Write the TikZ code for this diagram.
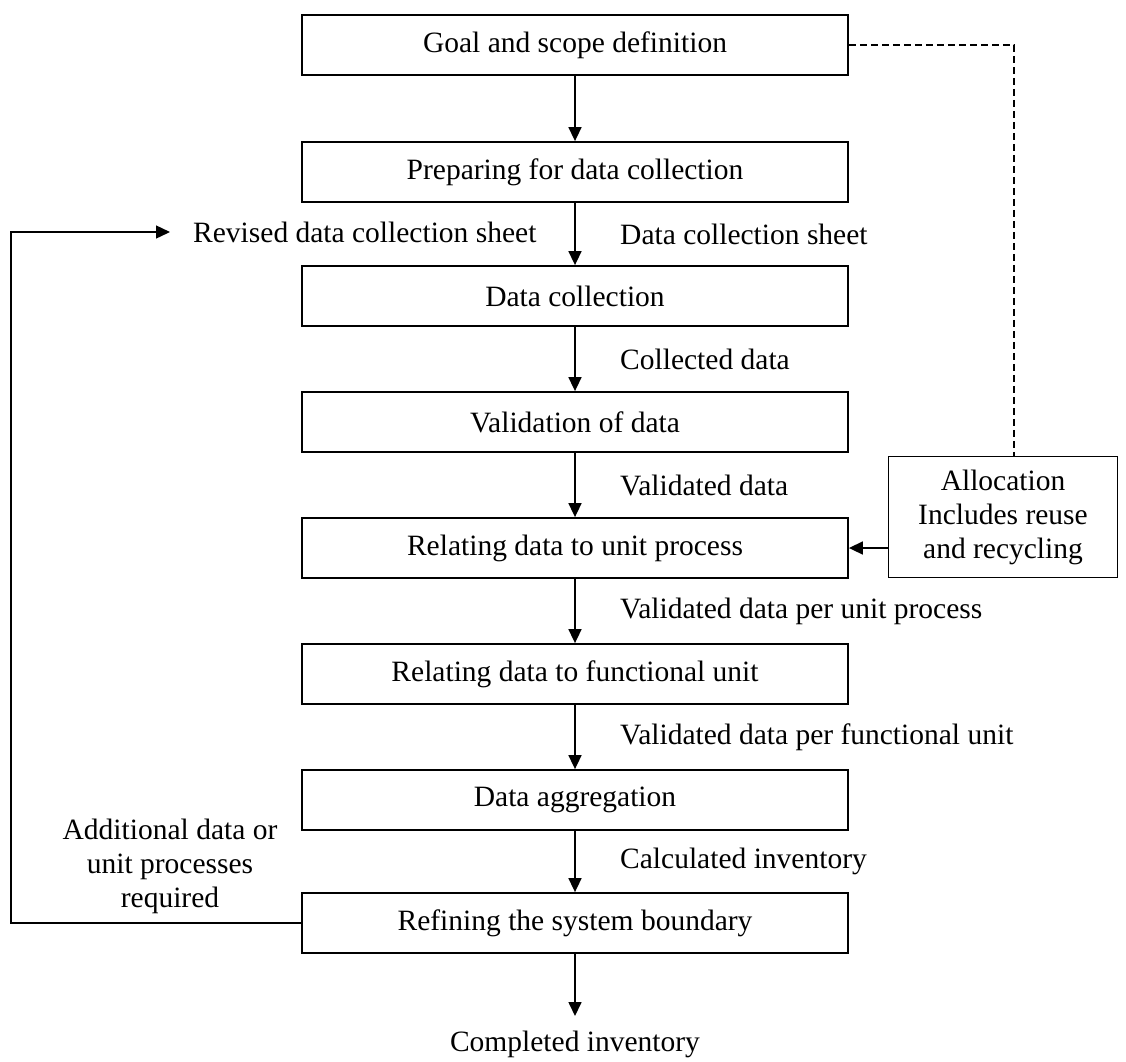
\documentclass[tikz,border=0pt]{standalone}
\usepackage{fontspec}
\setmainfont{Liberation Serif}
\usetikzlibrary{arrows.meta,positioning,calc}
\begin{document}
\begin{tikzpicture}[x=1pt,y=-1pt,
  font=\fontsize{29.5}{34}\selectfont,
  box/.style={draw,line width=1.8pt,minimum width=546pt,minimum height=60pt,inner sep=0pt,align=center},
  alloc/.style={draw,line width=1.8pt,minimum width=229pt,minimum height=121pt,inner sep=0pt,align=center},
  arr/.style={-{Triangle[length=14pt,width=13pt]},line width=1.6pt},
  fbline/.style={line width=1.4pt,dash pattern=on 7pt off 4pt},
  lab/.style={anchor=west,inner sep=0pt}]
\useasboundingbox (0,0) rectangle (1126,1061);
% ---------- main column ----------
\node[box] (goal) at (575,45) {Goal and scope definition};
\node[box] (prep) at (575,172) {Preparing for data collection};
\node[box] (coll) at (575,296) {Data collection};
\node[box] (valid) at (575,422) {Validation of data};
\node[box] (unit) at (575,548) {Relating data to unit process};
\node[box] (func) at (575,674) {Relating data to functional unit};
\node[box] (aggr) at (575,800) {Data aggregation};
\node[box] (refine) at (575,923) {Refining the system boundary};
\node[inner sep=0pt,anchor=north] (done) at (575,1031) {Completed inventory};
% ---------- flow labels ----------
\node[lab] (sheet) at (620,234) {Data collection sheet};
\node[lab] (collected) at (620,359) {Collected data};
\node[lab] (validated) at (620,485) {Validated data};
\node[lab] (perunit) at (620,611) {Validated data per unit process};
\node[lab] (perfunc) at (620,737) {Validated data per functional unit};
\node[lab] (calc) at (620,861) {Calculated inventory};
\node[lab] (revised) at (193,232) {Revised data collection sheet};
\node[align=center,inner sep=0pt] (extra) at (170,866) {Additional data or\\unit processes\\required};
% ---------- allocation ----------
\node[alloc] (alloc) at (1003,517) {Allocation\\Includes reuse\\and recycling};
% ---------- arrows ----------
\draw[arr] (goal) -- (prep);
\draw[arr] (prep) -- (coll);
\draw[arr] (coll) -- (valid);
\draw[arr] (valid) -- (unit);
\draw[arr] (unit) -- (func);
\draw[arr] (func) -- (aggr);
\draw[arr] (aggr) -- (refine);
\draw[arr,shorten >=15pt] (refine) -- (done);
\draw[arr] (alloc.west |- unit) -- (unit.east);
\draw[fbline] (goal.east) -| ([xshift=11pt]alloc.north);
\draw[arr,line width=1.4pt,shorten >=23pt] (refine.west) -- ++(-290,0) |- (revised.west);
\end{tikzpicture}
\end{document}
